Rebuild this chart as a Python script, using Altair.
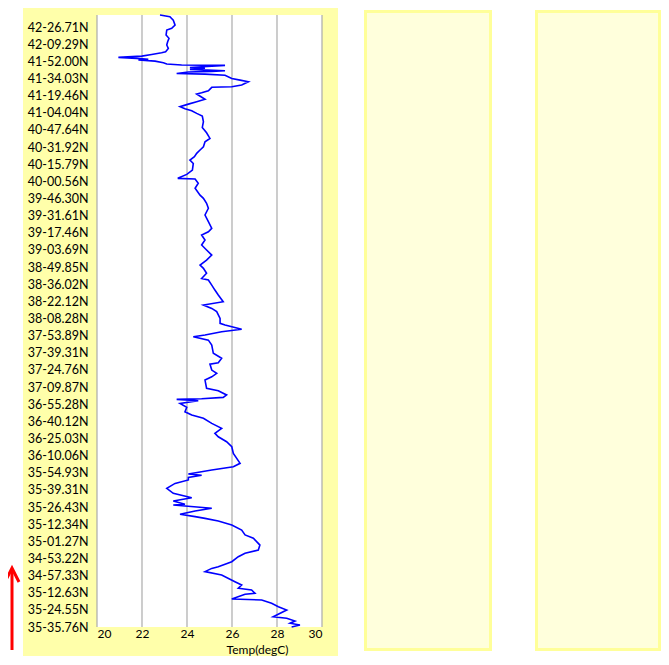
import json
import pandas as pd
import altair as alt

# Latitude tick labels, bottom (index 0) to top
lat_labels = ["35-35.76N", "35-24.55N", "35-12.63N", "34-57.33N", "34-53.22N", "35-01.27N",
              "35-12.34N", "35-26.43N", "35-39.31N", "35-54.93N", "36-10.06N", "36-25.03N",
              "36-40.12N", "36-55.28N", "37-09.87N", "37-24.76N", "37-39.31N", "37-53.89N",
              "38-08.28N", "38-22.12N", "38-36.02N", "38-49.85N", "39-03.69N", "39-17.46N",
              "39-31.61N", "39-46.30N", "40-00.56N", "40-15.79N", "40-31.92N", "40-47.64N",
              "41-04.04N", "41-19.46N", "41-34.03N", "41-52.00N", "42-09.29N", "42-26.71N"]

# Position along the track (in label steps) and temperature (top -> bottom)
track_pos = [35.71, 35.61, 35.41, 35.12, 34.93, 34.83, 34.54, 34.35, 34.15, 33.96, 33.76, 33.56,
             33.51, 33.41, 33.31, 33.24, 33.18, 33.12, 33.08, 33.02, 32.92, 32.85, 32.79, 32.77,
             32.65, 32.60, 32.54, 32.46, 32.42, 32.38, 32.30, 32.26, 32.19, 32.01, 31.91, 31.81,
             31.62, 31.52, 31.49, 31.29, 31.17, 31.10, 30.79, 30.65, 30.51, 30.36, 30.24, 30.12,
             29.97, 29.81, 29.48, 29.15, 28.84, 28.51, 28.31, 28.02, 27.83, 27.64, 27.44, 27.25,
             27.05,
             26.66, 26.41, 26.18, 26.14, 25.89, 25.60, 25.20, 25.01, 24.72, 24.43, 24.04, 23.65,
             23.26, 23.06, 22.87, 22.58, 22.29, 22.00, 21.70, 21.41, 21.12, 20.93, 20.64, 20.34,
             20.25, 19.95, 19.66, 19.37, 18.98, 18.79, 18.59, 18.40, 18.01,
             17.72, 17.62, 17.37, 17.23, 17.04, 16.94, 16.74, 16.45, 15.97, 15.68, 15.42, 15.34,
             14.99, 14.80, 14.60, 14.41, 13.93, 13.79, 13.54, 13.40, 13.32, 13.28, 13.20, 13.05,
             12.82, 12.56, 12.37, 12.18, 11.88, 11.59, 11.30, 11.10, 10.81, 10.52, 10.13, 9.55,
             9.35, 9.16, 8.93, 8.85, 8.73,
             8.58, 8.38, 8.09, 7.80, 7.54, 7.35, 7.16, 7.12, 6.93, 6.77, 6.58, 6.44, 6.34, 6.18,
             5.95, 5.66, 5.37, 5.18, 4.78, 4.49, 4.30, 4.10, 3.81, 3.52, 3.42, 3.23, 3.03, 2.64,
             2.45, 2.26, 2.16, 1.97, 1.91, 1.63, 1.58, 1.38, 1.18, 0.99, 0.60, 0.51, 0.35, 0.22,
             0.12, 0.00]

temp_c = [22.80, 23.24, 23.39, 23.47, 23.32, 23.10, 23.07, 23.20, 23.14, 23.10, 23.17, 23.05,
          22.87, 22.43, 21.99, 20.95, 21.76, 22.28, 21.84, 22.58, 22.95, 23.10, 23.76, 25.69,
          24.13, 24.80, 24.13, 25.69, 25.10, 24.06, 23.54, 24.80, 25.69, 25.99, 26.36, 26.73,
          26.43, 25.99, 25.10, 24.95, 24.65, 24.43, 24.80, 24.43, 24.06, 23.69, 23.91, 24.21,
          24.43, 24.68, 24.73, 24.68, 24.87, 25.02, 24.80, 24.73, 24.58, 24.43, 24.33, 24.13,
          24.28,
          24.24, 23.99, 23.59, 24.36, 24.50, 24.36, 24.58, 24.73, 24.87, 24.95, 24.80, 24.95,
          25.10, 24.95, 24.65, 24.80, 24.65, 24.87, 25.10, 24.87, 24.58, 24.73, 24.87, 24.65,
          24.95, 25.10, 25.24, 25.39, 25.61, 24.73, 25.10, 25.32, 25.47,
          25.47, 25.69, 26.43, 25.54, 24.80, 24.28, 24.95, 25.10, 25.17, 25.54, 25.39, 25.02,
          25.10, 25.32, 25.10, 24.80, 24.87, 25.39, 25.76, 25.61, 24.65, 23.54, 24.50, 23.69,
          23.99, 23.91, 24.21, 24.73, 25.10, 25.54, 25.24, 25.39, 25.76, 25.99, 26.06, 26.36,
          26.06, 25.10, 24.06, 24.65, 24.06,
          24.06, 23.47, 23.10, 23.39, 24.21, 23.39, 23.91, 23.39, 25.10, 24.36, 23.69, 24.36,
          24.80, 25.39, 25.99, 26.43, 26.58, 26.95, 27.24, 27.17, 26.58, 26.28, 25.99, 25.39,
          25.10, 24.80, 25.54, 26.13, 26.43, 26.28, 26.87, 27.02, 26.58, 25.99, 27.32, 27.76,
          28.06, 28.43, 27.83, 28.43, 28.80, 28.58, 29.02, 28.65]

x_ticks = [20, 22, 24, 26, 28, 30]

W, H = 225, 612
FONT = "Lato"

df = pd.DataFrame({"seq": list(range(len(track_pos))), "pos": track_pos, "temp": temp_c})
grid_df = pd.DataFrame({"temp": x_ticks})
one = pd.DataFrame({"a": [0]})

label_expr = json.dumps(lat_labels) + "[round(datum.value)]"

x_scale = alt.Scale(domain=[20, 30], nice=False, zero=False)
y_scale = alt.Scale(domain=[0, 35.71], nice=False, zero=False)

x_axis = alt.Axis(values=x_ticks, title="Temp(degC)", domain=False, ticks=False,
                  tickSize=0, grid=False, labelPadding=1, labelFont=FONT,
                  labelFontSize=12, labelColor="black", titleFont=FONT,
                  titleFontSize=12, titleFontWeight="normal", titleColor="black",
                  titleX=160, titleY=26, titleAlign="center",
                  titleBaseline="alphabetic", zindex=1)

# Background panels
main_panel = alt.Chart(one).mark_rect(color="#FFFFAA").encode(
    x=alt.value(-74), x2=alt.value(241), y=alt.value(-7), y2=alt.value(648))
panel2 = alt.Chart(one).mark_rect(fill="#FFFFDC", stroke="#FFFF99", strokeWidth=3).encode(
    x=alt.value(268.5), x2=alt.value(393.5), y=alt.value(-3.5), y2=alt.value(634.5))
panel3 = alt.Chart(one).mark_rect(fill="#FFFFDC", stroke="#FFFF99", strokeWidth=3).encode(
    x=alt.value(439.5), x2=alt.value(562.5), y=alt.value(-3.5), y2=alt.value(634.5))
plot_bg = alt.Chart(one).mark_rect(color="white").encode(
    x=alt.value(0), x2=alt.value(W), y=alt.value(0), y2=alt.value(H))

grid = alt.Chart(grid_df).mark_rule(color="#ABABAB", strokeWidth=1.2).encode(
    x=alt.X("temp:Q", scale=x_scale, axis=x_axis))

line = alt.Chart(df).mark_line(color="#0000FF", strokeWidth=1.6).encode(
    x=alt.X("temp:Q", scale=x_scale, axis=x_axis),
    y=alt.Y("pos:Q", scale=y_scale,
            axis=alt.Axis(values=list(range(len(lat_labels))), labelExpr=label_expr,
                          title=None, domain=False, ticks=False, tickSize=0, grid=False,
                          labelPadding=9, labelFont=FONT, labelFontSize=12.5,
                          labelColor="black", zindex=1)),
    order=alt.Order("seq:Q"),
)

arrow_shaft = alt.Chart(one).mark_rule(color="#FF0000", strokeWidth=3).encode(
    x=alt.value(-85), y=alt.value(556), y2=alt.value(635))
arrow_head = alt.Chart(one).mark_point(
    shape="M -1 1 L 0 -1 L 1 1", filled=False, stroke="#FF0000", strokeWidth=3, opacity=1,
    size=196).encode(x=alt.value(-85), y=alt.value(560))

chart = alt.layer(main_panel, panel2, panel3, plot_bg, grid, line, arrow_shaft, arrow_head).properties(
    width=W, height=H,
    autosize=alt.AutoSizeParams(type="none"),
    padding={"left": 89, "top": 7, "right": 339, "bottom": 29},
    background="white",
).configure_view(strokeWidth=0)

chart.save("out.html", embed_options={"renderer": "svg", "actions": False})
